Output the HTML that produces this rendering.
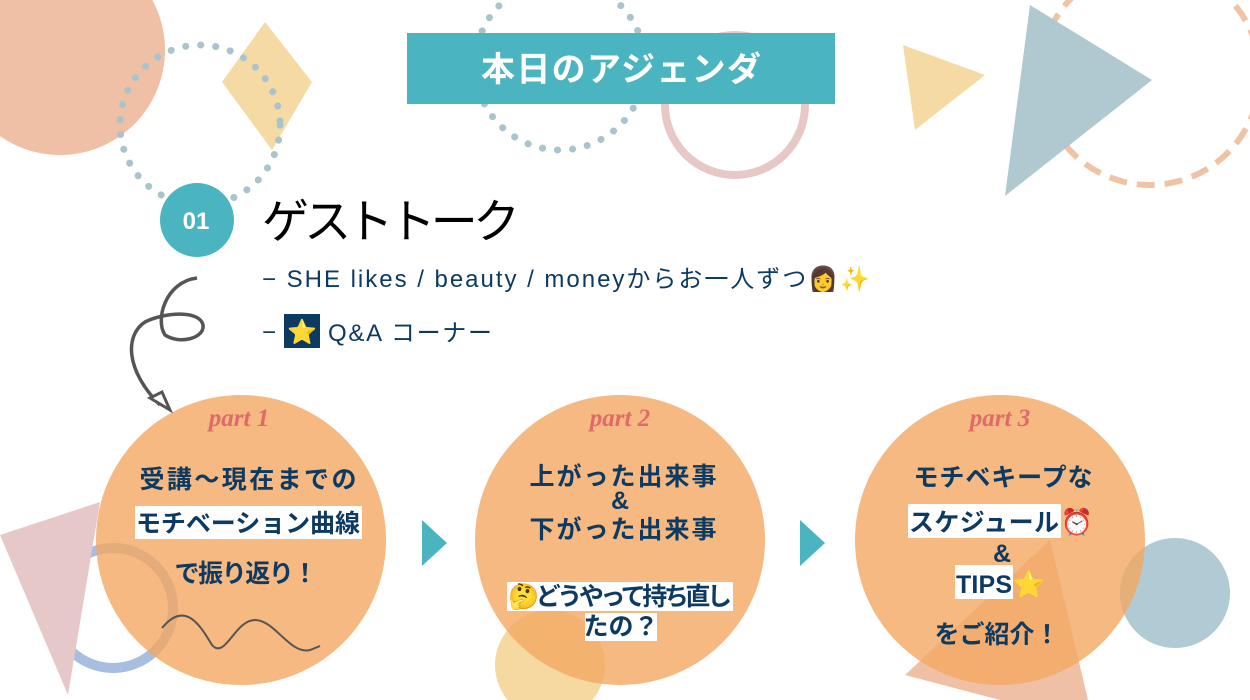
<!DOCTYPE html>
<html><head><meta charset="utf-8"><style>
html,body{margin:0;padding:0;background:#fff;}
svg{display:block}
text{font-family:"Liberation Sans","Noto Sans CJK JP",sans-serif;}
.b{font-weight:bold;fill:#0d3a63;font-size:25px;text-anchor:middle}
.p{font-family:"Liberation Serif","Noto Serif CJK SC",serif;font-weight:bold;font-style:italic;fill:#e06a6a;font-size:25px;text-anchor:middle}
</style></head><body>
<svg width="1250" height="700" viewBox="0 0 1250 700" xmlns="http://www.w3.org/2000/svg">
<circle cx="60" cy="50" r="105" fill="#efc0a5"/>
<polygon points="265,22 312,82 272,150 222,82" fill="#f5dba3"/>
<circle cx="200" cy="125" r="80" fill="none" stroke="#a9c4cc" stroke-width="7" stroke-dasharray="0.1 15" stroke-linecap="round"/>
<circle cx="560" cy="65" r="85" fill="none" stroke="#a9c4cc" stroke-width="7" stroke-dasharray="0.1 15" stroke-linecap="round"/>
<circle cx="735" cy="105" r="70" fill="none" stroke="#e8c8c6" stroke-width="8"/>
<polygon points="903,45 985,75 915,130" fill="#f5dba3"/>
<circle cx="1150" cy="75" r="110" fill="none" stroke="#f0c3a5" stroke-width="6" stroke-dasharray="18 10"/>
<polygon points="1030,5 1152,80 1005,196" fill="#b0c8d0"/>
<rect x="407" y="33" width="428" height="71" fill="#4ab5c1"/>
<text x="621" y="81" font-size="34" font-weight="bold" fill="#fff" text-anchor="middle" textLength="280">本日のアジェンダ</text>
<circle cx="197" cy="220" r="37" fill="#4ab5c1"/>
<text x="196" y="229" font-size="24" font-weight="bold" fill="#fff" text-anchor="middle">01</text>
<text x="262" y="238" font-size="47" fill="#000" textLength="258">ゲストトーク</text>
<text x="262" y="287" font-size="24" fill="#0d3a63" textLength="608">− SHE likes / beauty / moneyからお一人ずつ👩✨</text>
<rect x="284" y="314" width="36" height="34" fill="#0d3a63"/>
<text x="262" y="340" font-size="24" fill="#0d3a63">−</text>
<text x="302" y="340" font-size="24" text-anchor="middle">⭐</text>
<text x="328" y="341" font-size="24" fill="#0d3a63" textLength="164">Q&amp;A コーナー</text>
<path d="M197,278 C165,282 155,320 165,335 C180,345 205,338 203,325 C200,310 165,312 145,322 C125,335 125,370 160,405" fill="none" stroke="#555" stroke-width="3.5"/>
<polygon points="150,398 170,410 162,392" fill="#fff" stroke="#555" stroke-width="3"/>
<circle cx="113" cy="608" r="60" fill="none" stroke="#a8bde0" stroke-width="10"/>
<polygon points="100,502 68,695 0,535" fill="#e6c8c8"/>
<circle cx="550" cy="665" r="55" fill="#f5d9a0"/>
<circle cx="1175" cy="593" r="55" fill="#b0cbd3"/>
<polygon points="905,675 1050,540 1088,700 1000,700" fill="#efc0a5"/>
<circle cx="241" cy="540" r="145" fill="#f3a862" opacity="0.8"/>
<circle cx="620" cy="540" r="145" fill="#f3a862" opacity="0.8"/>
<circle cx="1000" cy="540" r="145" fill="#f3a862" opacity="0.8"/>
<polygon points="422,520 447,543 422,566" fill="#4ab5c1"/>
<polygon points="800,520 825,543 800,566" fill="#4ab5c1"/>
<text x="239" y="426" class="p">part 1</text>
<text x="248" y="488" class="b" textLength="217">受講～現在までの</text>
<rect x="135" y="506" width="227" height="33" fill="#fff"/>
<text x="248" y="532" class="b" textLength="224">モチベーション曲線</text>
<text x="246" y="582" class="b" textLength="143">で振り返り！</text>
<path d="M162,628 C185,600 200,625 212,645 C225,660 235,620 255,620 C275,620 290,655 310,650 L320,646" fill="none" stroke="#555" stroke-width="2"/>
<text x="620" y="426" class="p">part 2</text>
<text x="623" y="485" class="b" font-size="24" textLength="187">上がった出来事</text>
<text x="620" y="509" class="b" font-size="17">&amp;</text>
<text x="623" y="538" class="b" font-size="24" textLength="187">下がった出来事</text>
<rect x="507" y="582" width="226" height="29" fill="#fff"/>
<text x="620" y="605" class="b" font-size="21" textLength="224">🤔どうやって持ち直し</text>
<rect x="585" y="613" width="72" height="28" fill="#fff"/>
<text x="621" y="635" class="b" font-size="21">たの？</text>
<text x="1000" y="426" class="p">part 3</text>
<text x="1003" y="486" class="b" textLength="179">モチベキープな</text>
<rect x="908" y="504" width="153" height="34" fill="#fff"/>
<text x="984" y="531" class="b" font-size="24" textLength="150">スケジュール</text>
<text x="1077" y="531" font-size="26" text-anchor="middle">⏰</text>
<text x="1002" y="562" class="b" font-size="17">&amp;</text>
<rect x="955" y="565" width="58" height="34" fill="#fff"/>
<text x="984" y="593" class="b" font-size="24" textLength="56">TIPS</text>
<text x="1029" y="593" font-size="26" text-anchor="middle">⭐</text>
<text x="997" y="643" class="b" textLength="125">をご紹介！</text>
</svg>
</body></html>
